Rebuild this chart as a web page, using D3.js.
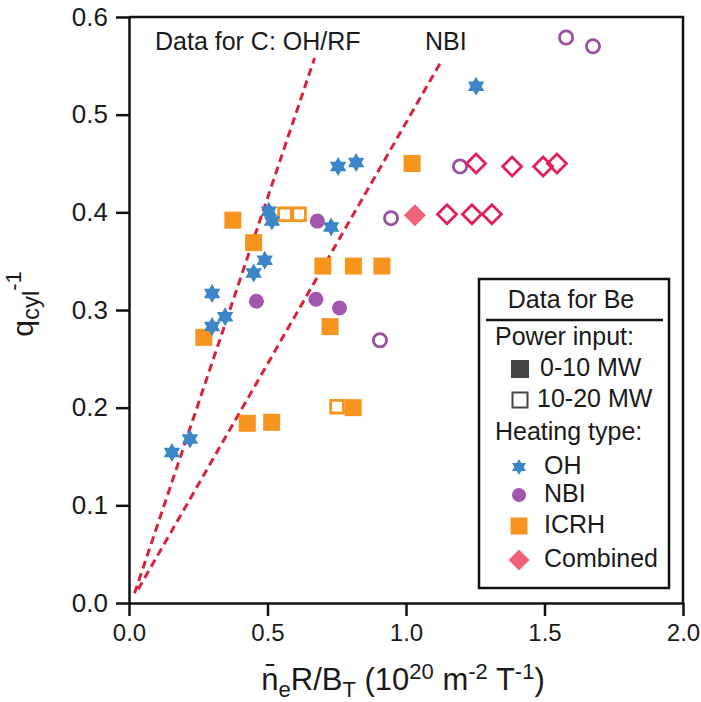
<!DOCTYPE html>
<html>
<head>
<meta charset="utf-8">
<script src="https://cdn.jsdelivr.net/npm/d3@7"></script>
<style>
  body { margin: 0; background: #fff; }
  svg text { font-family: "Liberation Sans", Arial, sans-serif; fill: #1a1a1a; }
</style>
</head>
<body>
<div id="chart-area"></div>
<script>
// ---- data (x = n_e R / B_T, y = 1/q_cyl) ----
const ohFilled = [[0.155, 0.154], [0.22, 0.168], [0.30, 0.317], [0.30, 0.283], [0.347, 0.293],
                  [0.45, 0.338], [0.49, 0.351], [0.505, 0.401], [0.516, 0.391], [0.73, 0.385],
                  [0.755, 0.447], [0.82, 0.451], [1.253, 0.529]];
const nbiFilled = [[0.46, 0.309], [0.68, 0.391], [0.675, 0.311], [0.76, 0.302]];
const nbiOpen = [[0.906, 0.269], [0.946, 0.394], [1.195, 0.447], [1.578, 0.579], [1.675, 0.570]];
const icrhFilled = [[0.27, 0.272], [0.375, 0.392], [0.45, 0.369], [0.427, 0.184], [0.515, 0.185],
                    [0.70, 0.345], [0.81, 0.345], [0.913, 0.345], [0.726, 0.283], [1.022, 0.450],
                    [0.809, 0.200]];
const icrhOpen = [[0.563, 0.398], [0.614, 0.398], [0.751, 0.201]];
const combFilled = [[1.032, 0.397]];
const combOpen = [[1.148, 0.398], [1.238, 0.398], [1.31, 0.398],
                  [1.253, 0.450], [1.383, 0.447], [1.495, 0.447], [1.545, 0.450]];

// dashed guide lines for carbon wall data
const lineC = [[0.02, 0.01], [0.67, 0.558]];
const lineNBI = [[0.033, 0.014], [1.13, 0.556]];

const xTicks = [0, 0.5, 1.0, 1.5, 2.0];
const yTicks = [0, 0.1, 0.2, 0.3, 0.4, 0.5, 0.6];

const legendPower = ["0-10 MW", "10-20 MW"];
const legendHeating = ["OH", "NBI", "ICRH", "Combined"];

// ---- layout ----
const W = 701, H = 702;
const plotL = 129, plotR = 683, plotT = 17, plotB = 603;

const col = {
    oh: "#3a86c8",
    nbi: "#a356ad",
    nbiLine: "#9a4f9f",
    icrh: "#f7941e",
    comb: "#f0647a",
    combLine: "#e2215a",
    dash: "#d8233f"
};

// custom symbols: size is used as the outer radius
const hexagram = {
    draw(ctx, r) {
        const ri = r / Math.sqrt(3);
        for (let i = 0; i < 12; i++) {
            const a = -Math.PI / 2 + i * Math.PI / 6;
            const rr = i % 2 === 0 ? r : ri;
            const px = rr * Math.cos(a), py = rr * Math.sin(a);
            if (i === 0) ctx.moveTo(px, py); else ctx.lineTo(px, py);
        }
        ctx.closePath();
    }
};
const diamond = {
    draw(ctx, r) {
        ctx.moveTo(0, -r); ctx.lineTo(r, 0); ctx.lineTo(0, r); ctx.lineTo(-r, 0); ctx.closePath();
    }
};
const square = {
    draw(ctx, r) { ctx.rect(-r, -r, 2 * r, 2 * r); }
};
const circle = {
    draw(ctx, r) { ctx.moveTo(r, 0); ctx.arc(0, 0, r, 0, 2 * Math.PI); }
};

const svg = d3.select("#chart-area").append("svg")
    .attr("width", W).attr("height", H);

const x = d3.scaleLinear().domain([0, 2]).range([plotL, plotR]);
const y = d3.scaleLinear().domain([0, 0.6]).range([plotB, plotT]);

// frame (top + right)
svg.append("path")
    .attr("d", `M${plotL},${plotT}H${plotR}V${plotB}`)
    .attr("fill", "none").attr("stroke", "#111").attr("stroke-width", 2.5);

// axes
const xAxis = svg.append("g")
    .attr("transform", `translate(0,${plotB})`)
    .call(d3.axisBottom(x).tickValues(xTicks).tickFormat(d3.format(".1f"))
        .tickSize(13).tickSizeOuter(0).tickPadding(8));
const yAxis = svg.append("g")
    .attr("transform", `translate(${plotL},0)`)
    .call(d3.axisLeft(y).tickValues(yTicks).tickFormat(d3.format(".1f"))
        .tickSize(13).tickSizeOuter(0).tickPadding(8));
for (const ax of [xAxis, yAxis]) {
    ax.select(".domain").attr("stroke", "#111").attr("stroke-width", 2.5);
    ax.selectAll(".tick line").attr("stroke", "#111").attr("stroke-width", 2.5);
    ax.selectAll(".tick text").attr("fill", "#1a1a1a")
        .attr("font-family", "Liberation Sans, Arial, sans-serif");
}
xAxis.selectAll(".tick text").attr("font-size", 24);
yAxis.selectAll(".tick text").attr("font-size", 26);

// dashed lines
const line = d3.line().x(d => x(d[0])).y(d => y(d[1]));
for (const l of [lineC, lineNBI]) {
    svg.append("path").attr("d", line(l))
        .attr("fill", "none").attr("stroke", col.dash)
        .attr("stroke-width", 3).attr("stroke-dasharray", "8,5");
}
svg.append("text").attr("x", 155).attr("y", 50).attr("font-size", 25).text("Data for C: OH/RF");
svg.append("text").attr("x", 425).attr("y", 50).attr("font-size", 25).text("NBI");

// data markers
function plot(data, type, r, filled, color) {
    svg.append("g").selectAll("path").data(data).join("path")
        .attr("transform", d => `translate(${x(d[0])},${y(d[1])})`)
        .attr("d", d3.symbol().type(type).size(r))
        .attr("fill", filled ? color : "none")
        .attr("stroke", filled ? "none" : color)
        .attr("stroke-width", filled ? 0 : 2.8);
}
plot(icrhFilled, square, 8.5, true, col.icrh);
plot(icrhOpen, square, 6.3, false, col.icrh);
plot(nbiFilled, circle, 7.5, true, col.nbi);
plot(nbiOpen, circle, 6.6, false, col.nbiLine);
plot(ohFilled, hexagram, 9.5, true, col.oh);
plot(combFilled, diamond, 11, true, col.comb);
plot(combOpen, diamond, 9.5, false, col.combLine);

// legend
const lg = svg.append("g");
lg.append("rect").attr("x", 479).attr("y", 279).attr("width", 190).attr("height", 309)
    .attr("fill", "#fff").attr("stroke", "#111").attr("stroke-width", 2.5);
lg.append("line").attr("x1", 486).attr("x2", 663).attr("y1", 320).attr("y2", 320)
    .attr("stroke", "#111").attr("stroke-width", 2.5);
lg.append("text").attr("x", 571).attr("y", 308).attr("text-anchor", "middle")
    .attr("font-size", 25).text("Data for Be");
lg.append("text").attr("x", 495).attr("y", 345).attr("font-size", 25).text("Power input:");
lg.append("text").attr("x", 495).attr("y", 440).attr("font-size", 25).text("Heating type:");

const powerY = [376, 407];
legendPower.forEach((t, i) => {
    lg.append("path").attr("transform", `translate(520,${powerY[i] - 7})`)
        .attr("d", d3.symbol().type(square).size(i === 0 ? 9 : 7.5))
        .attr("fill", i === 0 ? "#444" : "none")
        .attr("stroke", i === 0 ? "none" : "#444").attr("stroke-width", 2);
    lg.append("text").attr("x", i === 0 ? 540 : 537).attr("y", powerY[i])
        .attr("font-size", 25).text(t);
});

const heatY = [474, 502, 533, 567];
const heatSym = [[hexagram, 8, col.oh], [circle, 7, col.nbi], [square, 8.5, col.icrh], [diamond, 10.5, col.comb]];
legendHeating.forEach((t, i) => {
    lg.append("path").attr("transform", `translate(519,${heatY[i] - 7})`)
        .attr("d", d3.symbol().type(heatSym[i][0]).size(heatSym[i][1]))
        .attr("fill", heatSym[i][2]);
    lg.append("text").attr("x", 544).attr("y", heatY[i]).attr("font-size", 25).text(t);
});

// axis labels
const xl = svg.append("text").attr("x", 403).attr("y", 690)
    .attr("text-anchor", "middle").attr("font-size", 31);
xl.append("tspan").text("n\u0304");
xl.append("tspan").attr("dy", 7).attr("font-size", 22).text("e");
xl.append("tspan").attr("dy", -7).text("R/B");
xl.append("tspan").attr("dy", 7).attr("font-size", 22).text("T");
xl.append("tspan").attr("dy", -7).text(" (10");
xl.append("tspan").attr("dy", -11).attr("font-size", 22).text("20");
xl.append("tspan").attr("dy", 11).text(" m");
xl.append("tspan").attr("dy", -11).attr("font-size", 22).text("-2");
xl.append("tspan").attr("dy", 11).text(" T");
xl.append("tspan").attr("dy", -11).attr("font-size", 22).text("-1");
xl.append("tspan").attr("dy", 11).text(")");

const yl = svg.append("text").attr("transform", "translate(33,304) rotate(-90)")
    .attr("text-anchor", "middle").attr("font-size", 30);
yl.append("tspan").text("q");
yl.append("tspan").attr("dy", 6).attr("font-size", 24).text("cyl");
yl.append("tspan").attr("dy", -18).attr("font-size", 22).text("-1");
</script>
</body>
</html>
